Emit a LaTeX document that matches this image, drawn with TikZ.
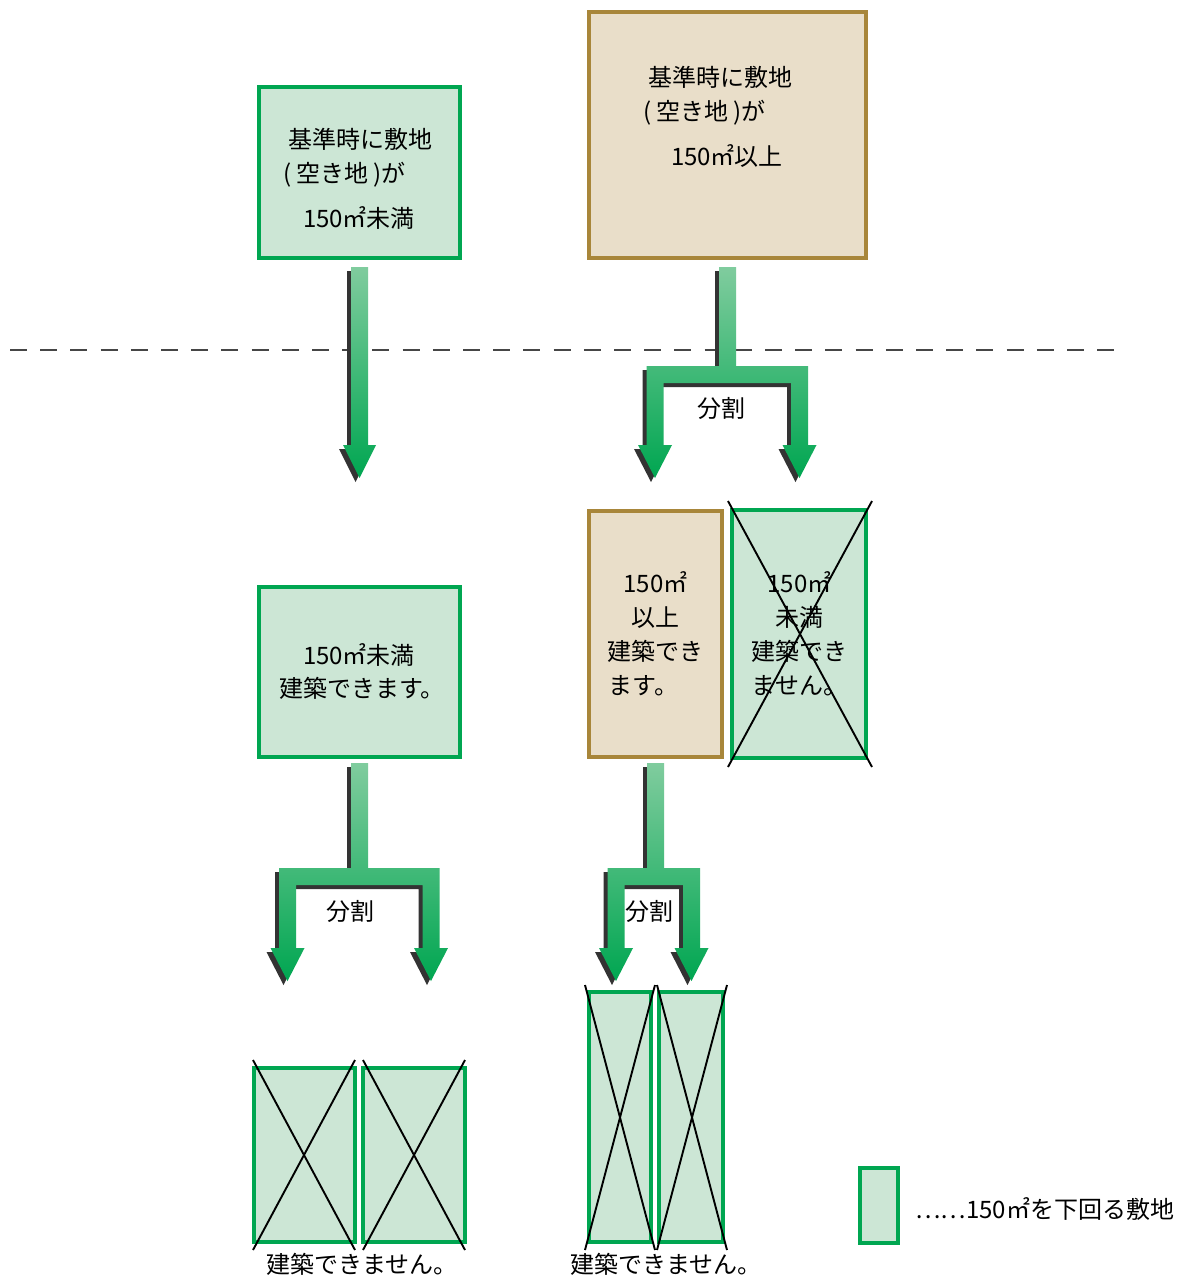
\documentclass[tikz,border=0pt]{standalone}
\usepackage{fontspec}
\setmainfont{Noto Sans CJK JP}
\usetikzlibrary{calc}
\definecolor{gborder}{RGB}{0,166,81}
\definecolor{gfill}{RGB}{204,230,213}
\definecolor{tfill}{RGB}{233,222,201}
\definecolor{tborder}{RGB}{168,134,58}
\definecolor{alight}{RGB}{128,204,158}
\definecolor{adark}{RGB}{0,166,81}
\definecolor{shadowc}{RGB}{51,51,51}
\definecolor{dashc}{RGB}{70,70,70}
\tikzset{
  gbox/.style={draw=gborder, fill=gfill, line width=4.5pt, inner sep=0pt},
  tbox/.style={draw=tborder, fill=tfill, line width=4pt, inner sep=0pt},
  lbl/.style={inner sep=0pt, anchor=base, font=\fontsize{24}{34}\selectfont},
  lblw/.style={lbl, anchor=base west},
  xline/.style={black, line width=1.9pt},
  arrshadow/.style={fill=shadowc, shift={(-4,4)}},
  arrbody/.style={top color=alight, bottom color=adark},
  dashln/.style={dashc, line width=1.3pt, dash pattern=on 17pt off 13.2pt},
}
% split arrow: #1 shaft centre x, #2 top y, #3 bar top y, #4 left leg x, #5 right leg x, #6 head top y
\newcommand{\splitpath}[6]{%
 (#1-8.5,#2) -- (#1+8.5,#2) -- (#1+8.5,#3) -- (#5+8.5,#3) -- (#5+8.5,#6) -- (#5+17,#6) -- (#5,#6+33) -- (#5-17,#6) -- (#5-8.5,#6) -- (#5-8.5,#3+17) -- (#4+8.5,#3+17) -- (#4+8.5,#6) -- (#4+17,#6) -- (#4,#6+33) -- (#4-17,#6) -- (#4-8.5,#6) -- (#4-8.5,#3) -- (#1-8.5,#3) -- cycle}
\newcommand{\singlepath}[4]{%
 (#1-8.5,#2) -- (#1+8.5,#2) -- (#1+8.5,#3) -- (#1+16.5,#3) -- (#1,#4) -- (#1-16.5,#3) -- (#1-8.5,#3) -- cycle}
\begin{document}
\begin{tikzpicture}[x=1pt,y=-1pt]
\useasboundingbox[fill=white] (0,0) rectangle (1179,1277);

% dashed separator
\coordinate (dl) at (10,350);
\coordinate (dr) at (1115,350);
\draw[dashln] (dl) -- (dr);

% top boxes
\node[gbox, minimum width=201pt, minimum height=171pt] (A) at (359.5,172.5) {};
\node[lbl] (A1) at (360,148) {基準時に敷地};
\node[lblw] (A2) at (283,182) {(\hspace{5pt}空き地\hspace{5pt})が};
\node[lbl] (A3) at (359,227) {150㎡未満};

\node[tbox, minimum width=277pt, minimum height=246pt] (B) at (727.5,135) {};
\node[lbl] (B1) at (720,86) {基準時に敷地};
\node[lblw] (B2) at (643,120) {(\hspace{5pt}空き地\hspace{5pt})が};
\node[lbl] (B3) at (727,165) {150㎡以上};

% top arrows
\fill[arrshadow] \singlepath{359.5}{267}{445}{478};
\shade[arrbody] \singlepath{359.5}{267}{445}{478};
\fill[arrshadow] \splitpath{727.5}{267}{366}{655}{799.5}{445};
\shade[arrbody] \splitpath{727.5}{267}{366}{655}{799.5}{445};
\node[lbl] (S1) at (721,417) {分割};

% middle boxes
\node[gbox, minimum width=201pt, minimum height=170pt] (C) at (359.5,672) {};
\node[lbl] (C1) at (359,664) {150㎡未満};
\node[lbl] (C2) at (362,697) {建築できます。};

\node[tbox, minimum width=133pt, minimum height=246pt] (D) at (655.5,634) {};
\node[lbl] (D1) at (655.5,592) {150㎡};
\node[lbl] (D2) at (655.5,626) {以上};
\node[lbl] (D3) at (655.5,660) {建築でき};
\node[lbl] (D4) at (655.5,694) {ます。\phantom{き}};

\node[gbox, minimum width=134pt, minimum height=248pt] (E) at (799,634) {};
\node[lbl] (E1) at (799.5,592) {150㎡};
\node[lbl] (E2) at (799.5,626) {未満};
\node[lbl] (E3) at (799.5,660) {建築でき};
\node[lbl] (E4) at (799.5,694) {ません。};
\draw[xline] (728,501) -- (872,767);
\draw[xline] (872,501) -- (728,767);

% lower arrows
\fill[arrshadow] \splitpath{359.5}{763}{868}{287.5}{431}{948};
\shade[arrbody] \splitpath{359.5}{763}{868}{287.5}{431}{948};
\node[lbl] (S2) at (350,920) {分割};
\fill[arrshadow] \splitpath{655.5}{763}{868}{616}{691.5}{948};
\shade[arrbody] \splitpath{655.5}{763}{868}{616}{691.5}{948};
\node[lbl] (S3) at (649,920) {分割};

% bottom boxes
\node[gbox, minimum width=101pt, minimum height=174pt] (F1) at (304.5,1155) {};
\node[gbox, minimum width=102pt, minimum height=174pt] (F2) at (414,1155) {};
\draw[xline] (253,1060) -- (355,1250);
\draw[xline] (355,1060) -- (253,1250);
\draw[xline] (363,1060) -- (465,1250);
\draw[xline] (465,1060) -- (363,1250);
\node[lbl] (F3) at (362,1273) {建築できません。};

\node[gbox, minimum width=62pt, minimum height=250pt] (G1) at (620,1117) {};
\node[gbox, minimum width=64pt, minimum height=250pt] (G2) at (691,1117) {};
\draw[xline] (585,985) -- (655,1250);
\draw[xline] (655,985) -- (585,1250);
\draw[xline] (657,985) -- (727,1250);
\draw[xline] (727,985) -- (657,1250);
\node[lbl] (G3) at (666,1273) {建築できません。};

% legend
\node[gbox, minimum width=38pt, minimum height=75pt] (L) at (879,1205.5) {};
\node[lblw] (L1) at (915,1218) {……150㎡を下回る敷地};
\end{tikzpicture}
\end{document}
